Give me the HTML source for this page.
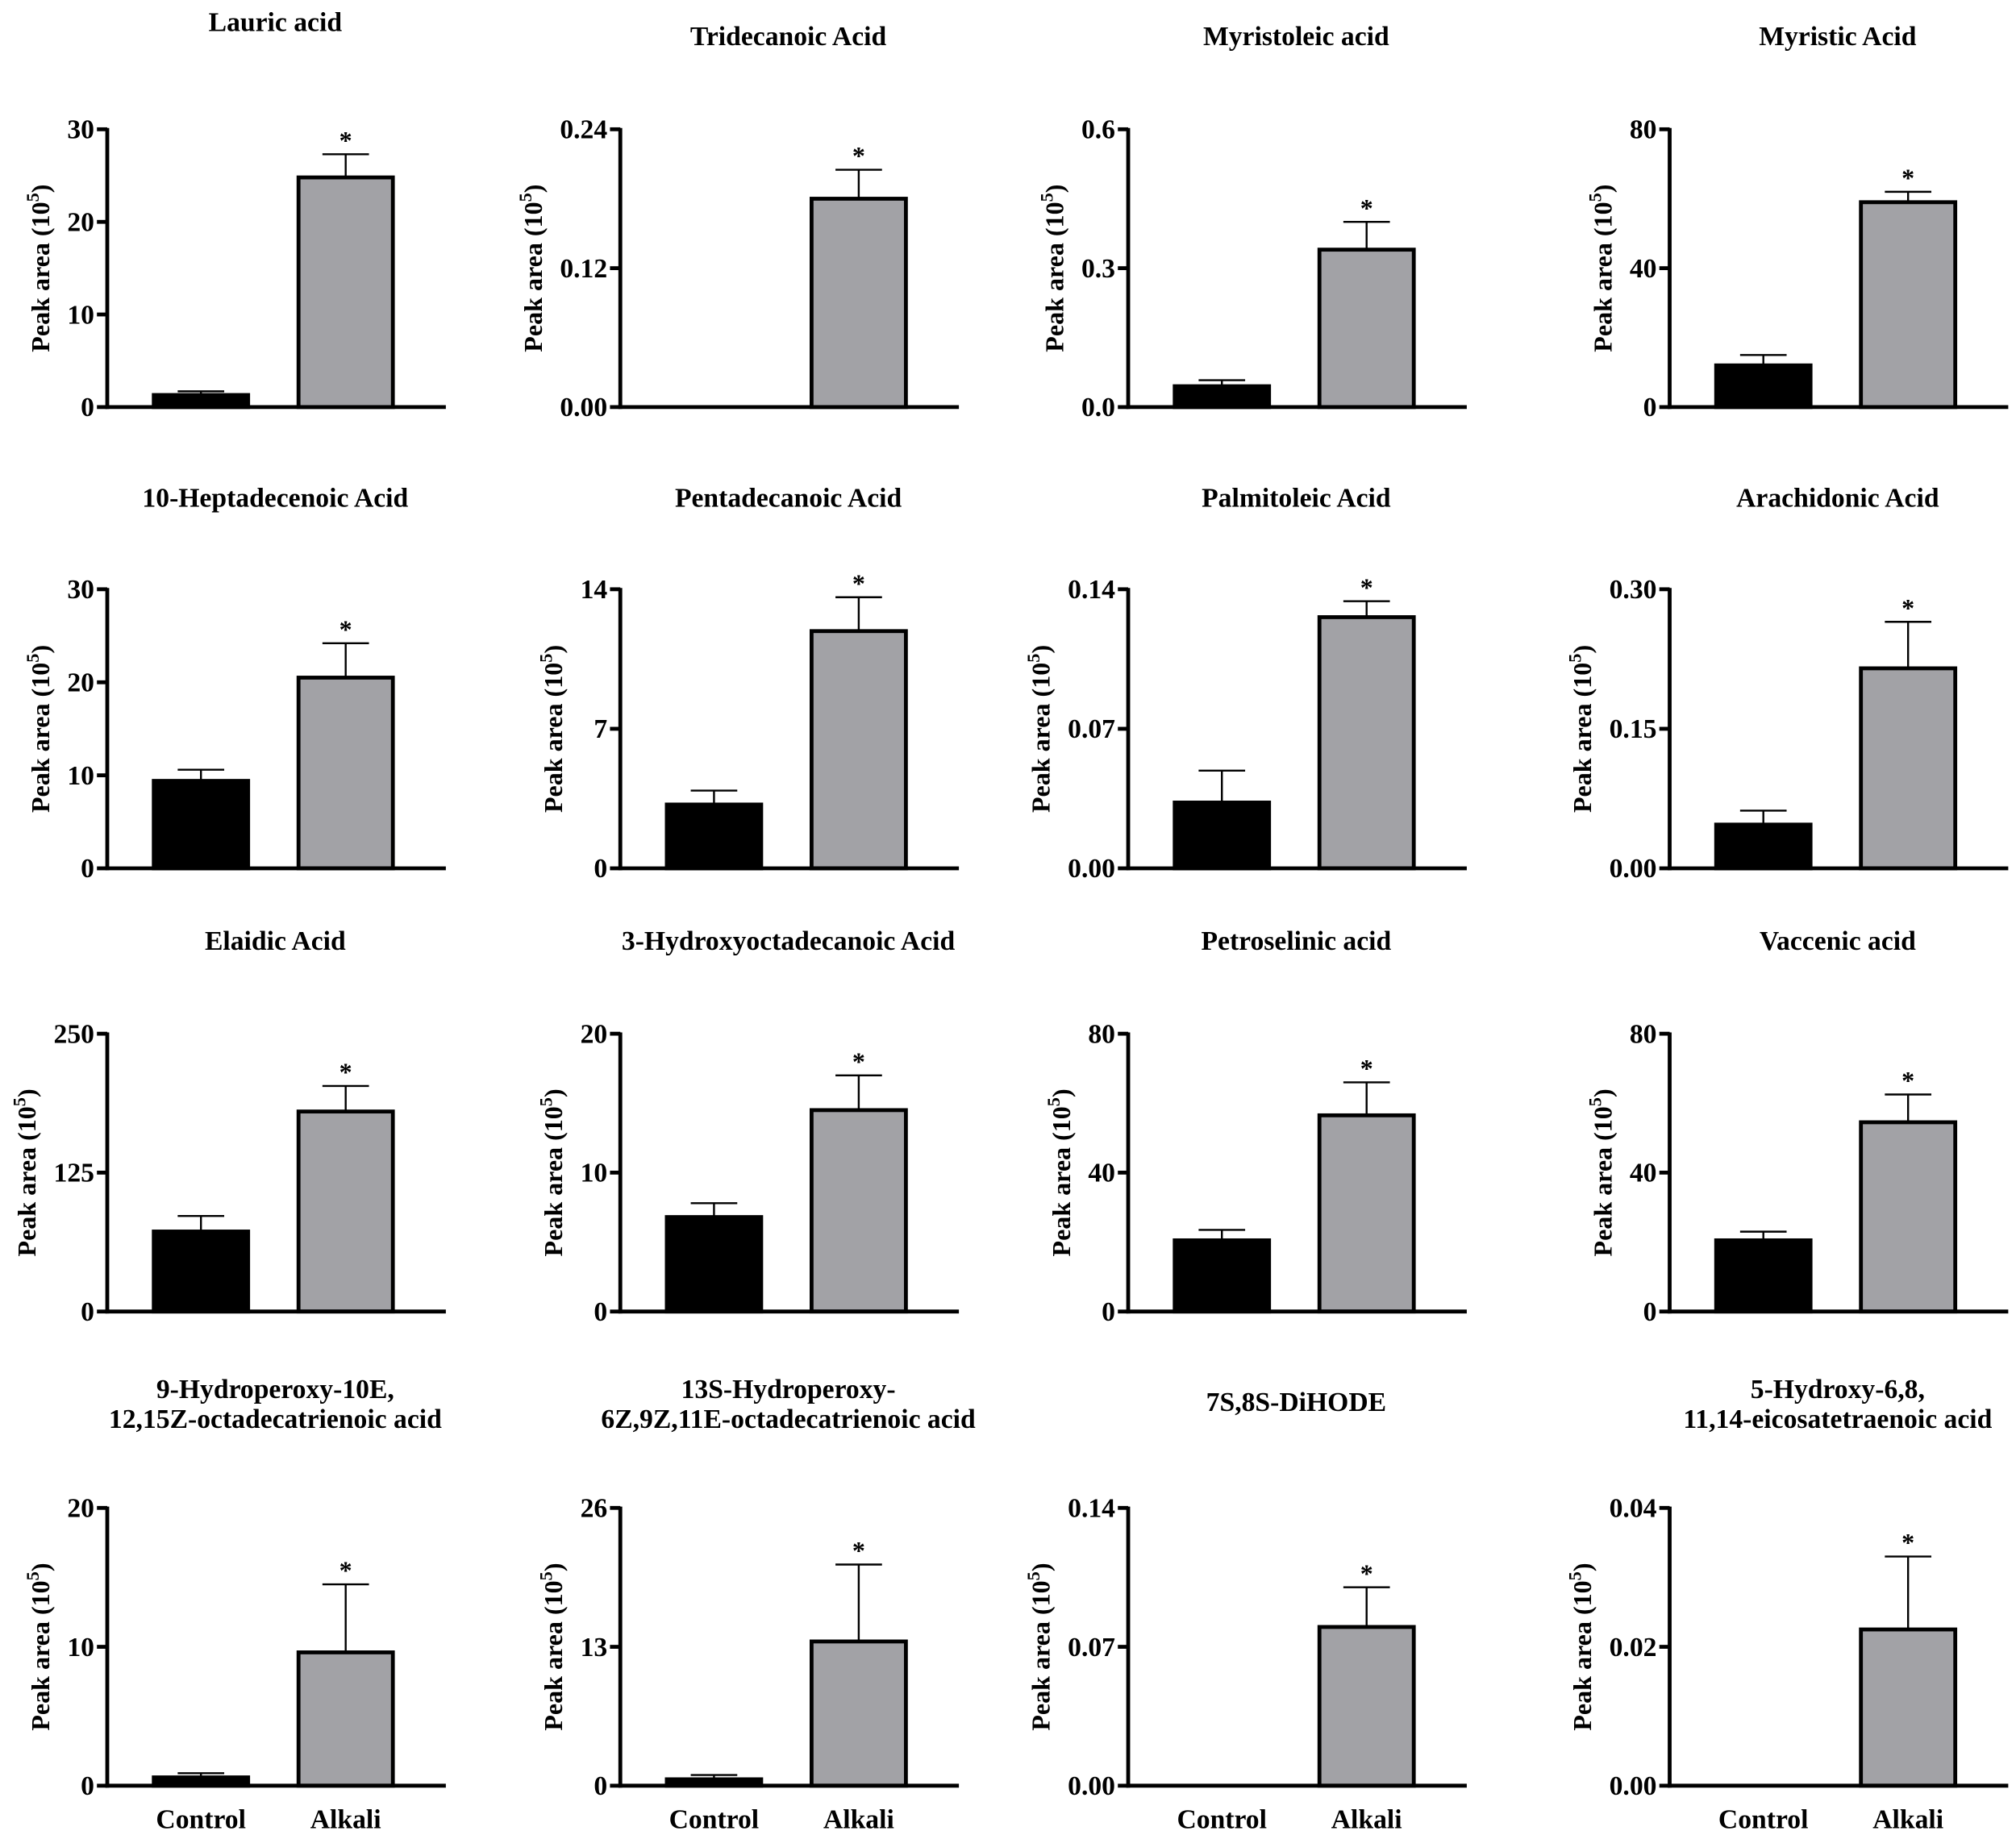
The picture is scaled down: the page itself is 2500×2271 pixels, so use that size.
<!DOCTYPE html>
<html><head><meta charset="utf-8"><style>
html,body{margin:0;padding:0;background:#fff}
svg{display:block}
text{font-family:"Liberation Serif",serif;font-weight:bold;fill:#000}
</style></head><body>
<svg id="chart" width="2500" height="2271" viewBox="0 0 1560 1417" xmlns="http://www.w3.org/2000/svg"></svg>
<script>
const titles = [["Lauric acid"],["Tridecanoic Acid"],["Myristoleic acid"],["Myristic Acid"],
["10-Heptadecenoic Acid"],["Pentadecanoic Acid"],["Palmitoleic Acid"],["Arachidonic Acid"],
["Elaidic Acid"],["3-Hydroxyoctadecanoic Acid"],["Petroselinic acid"],["Vaccenic acid"],
["9-Hydroperoxy-10E,","12,15Z-octadecatrienoic acid"],["13S-Hydroperoxy-","6Z,9Z,11E-octadecatrienoic acid"],["7S,8S-DiHODE"],["5-Hydroxy-6,8,","11,14-eicosatetraenoic acid"]];
const tickLabels = [["0","10","20","30"],["0.00","0.12","0.24"],["0.0","0.3","0.6"],["0","40","80"],
["0","10","20","30"],["0","7","14"],["0.00","0.07","0.14"],["0.00","0.15","0.30"],
["0","125","250"],["0","10","20"],["0","40","80"],["0","40","80"],
["0","10","20"],["0","13","26"],["0.00","0.07","0.14"],["0.00","0.02","0.04"]];
const categories = ["Control","Alkali"];
const controlMean = [1.3,0,0.045,12, 9.4,3.2,0.033,0.047, 72,6.8,20.5,20.5, 0.6,0.6,0,0];
const controlErr  = [1.7,0,0.058,15, 10.6,3.9,0.049,0.062, 86,7.8,23.5,23, 0.9,1.0,0,0];
const alkaliMean  = [24.8,0.18,0.34,59, 20.5,11.9,0.126,0.215, 180,14.5,56.5,54.5, 9.6,13.5,0.08,0.0225];
const alkaliErr   = [27.3,0.205,0.40,62, 24.2,13.6,0.134,0.265, 203,17,66,62.5, 14.5,20.7,0.1,0.033];

const NS="http://www.w3.org/2000/svg";
const svg=document.getElementById('chart');
function mk(tag,attrs,parent){const e=document.createElementNS(NS,tag);for(const k in attrs)e.setAttribute(k,attrs[k]);(parent||svg).appendChild(e);return e;}
const axisX=[83,480,873,1292];
const rowTop=[100,456,800,1167], rowZero=[315,672,1015,1382];
const titleY=[[17,28,28,28],[385,385,385,385],[728,728,728,728],[1075,1075,1085,1075]];
for(let i=0;i<16;i++){
  const r=Math.floor(i/4),c=i%4;
  const ax=axisX[c],top=rowTop[r],zero=rowZero[r];
  const ticks=tickLabels[i].map(Number);
  const max=ticks[ticks.length-1];
  const y=v=>zero-(v/max)*(zero-top);
  const g=mk('g',{});
  
  
  titles[i].forEach((t,k)=>{
    const tt=mk('text',{x:ax+130,y:titleY[r][c]+k*23+7,'text-anchor':'middle','font-size':21},g);
    tt.textContent=t;
    
    
  });
  const ya=mk('line',{x1:ax,y1:top-1,x2:ax,y2:zero+1.5,stroke:'#000','stroke-width':3},g);
  
  
  let maxW=0;
  ticks.forEach((v,k)=>{
    mk('line',{x1:ax-8,y1:y(v),x2:ax,y2:y(v),stroke:'#000','stroke-width':3},g);
    const tl=mk('text',{x:ax-10,y:y(v)+7,'text-anchor':'end','font-size':21},g);
    tl.textContent=tickLabels[i][k];
    
    
    maxW=Math.max(maxW,tl.getComputedTextLength());
  });
  const yl=mk('text',{transform:`translate(${ax-10-maxW-14},${(top+zero)/2}) rotate(-90)`,'text-anchor':'middle','font-size':20},g);
  yl.innerHTML='Peak area (10<tspan dy="-8" font-size="14">5</tspan><tspan dy="8">)</tspan>';
  
  
  const bars=[[controlMean[i],controlErr[i],'#000',36],[alkaliMean[i],alkaliErr[i],'#a2a2a6',148]];
  bars.forEach((b,k)=>{
    const bx=ax+b[3],bw=73,cx=bx+bw/2;
    if(b[0]>0){
      mk('line',{x1:cx,y1:y(b[0]),x2:cx,y2:y(b[1]),stroke:'#000','stroke-width':1.5},g);
      mk('line',{x1:cx-18,y1:y(b[1]),x2:cx+18,y2:y(b[1]),stroke:'#000','stroke-width':1.5},g);
      const rc=mk('rect',{x:bx,y:y(b[0]),width:bw,height:zero-y(b[0]),fill:b[2],stroke:'#000','stroke-width':3},g);
      
      
    }
    if(k===1){
      const st=mk('text',{x:cx,y:y(b[1])-4,'text-anchor':'middle','font-size':20,'font-weight':'normal'},g);
      st.textContent='*';
      
      
    }
    if(r===3){
      const xl=mk('text',{x:cx,y:zero+33,'text-anchor':'middle','font-size':21},g);
      xl.textContent=categories[k];
      
      
    }
  });
  const xa=mk('line',{x1:ax-1.5,y1:zero,x2:ax+262,y2:zero,stroke:'#000','stroke-width':3},g);
  
  
}
</script>
</body></html>
